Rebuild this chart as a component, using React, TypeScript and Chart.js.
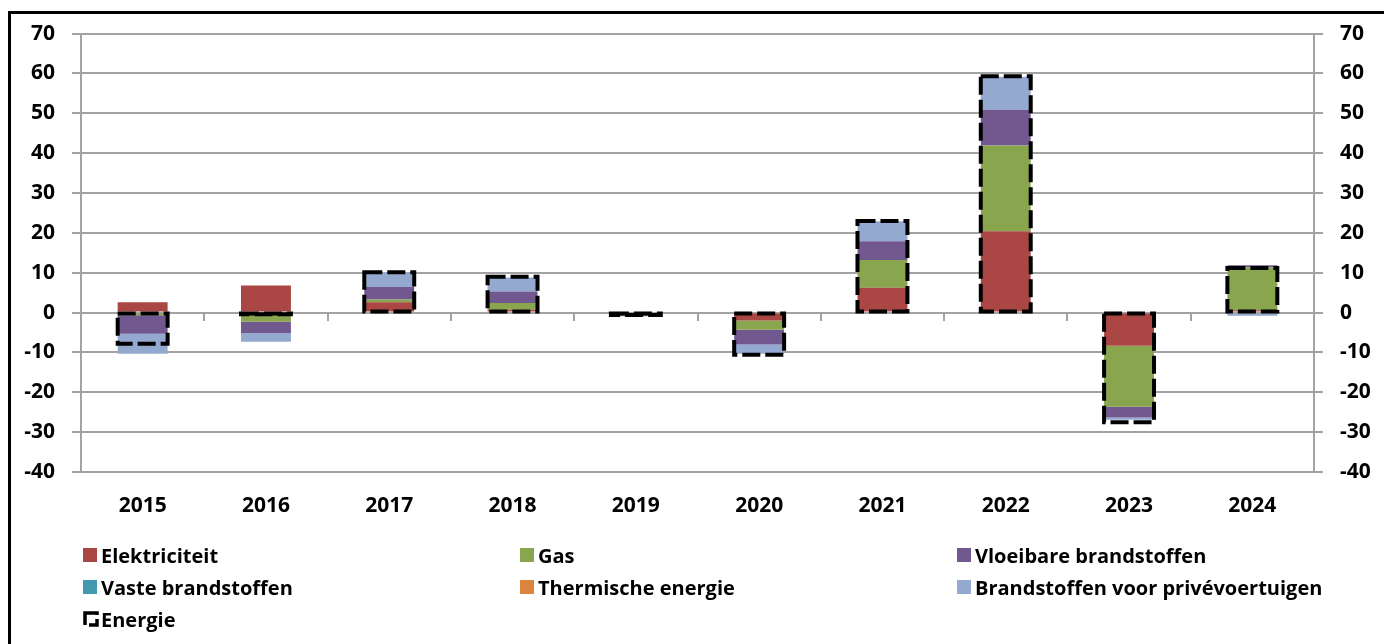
import React, { useEffect, useRef } from "react";
import { Chart, registerables } from "chart.js";

Chart.register(...registerables);

const years = ["2015", "2016", "2017", "2018", "2019", "2020", "2021", "2022", "2023", "2024"];
const elektriciteit = [2.6, 6.8, 2.6, 0.7, 0.3, -2.0, 6.2, 20.4, -8.3, 0.6];
const gas = [-0.7, -2.3, 0.7, 1.7, -0.6, -2.3, 7.0, 21.5, -15.3, 10.7];
const vloeibare = [-4.6, -2.9, 3.1, 2.9, -0.2, -3.7, 4.7, 9.0, -2.7, 0.6];
const vaste = [0, 0, 0, 0, 0, 0, 0, 0, 0, 0];
const thermische = [0, 0, 0, 0, 0, 0, 0, 0, 0, 0];
const prive = [-5.0, -2.1, 3.8, 3.5, -0.1, -2.3, 5.0, 8.3, -0.6, -0.8];
const energie = [-7.8, -0.4, 10.1, 9.0, -0.6, -10.6, 23.0, 59.3, -27.5, 11.2];
const yTicks = { min: -40, max: 70, step: 10 };

const series = [
  { label: "Elektriciteit", data: elektriciteit, color: "#AA4643" },
  { label: "Gas", data: gas, color: "#89A54E" },
  { label: "Vloeibare brandstoffen", data: vloeibare, color: "#71588F" },
  { label: "Vaste brandstoffen", data: vaste, color: "#4198AF" },
  { label: "Thermische energie", data: thermische, color: "#DB843D" },
  { label: "Brandstoffen voor privévoertuigen", data: prive, color: "#93A9CF" },
];
const totalLabel = "Energie";

const GRID = "#a3a3a3";
const FONT = '"Open Sans", "DejaVu Sans", sans-serif';

const dashedBoxPlugin = {
  id: "dashedBox",
  afterDatasetsDraw(chart: any) {
    const idx = chart.data.datasets.findIndex((d: any) => d.label === totalLabel);
    if (idx < 0) return;
    const meta = chart.getDatasetMeta(idx);
    const ctx = chart.ctx;
    ctx.save();
    ctx.strokeStyle = "#000";
    ctx.lineWidth = 4;
    ctx.lineCap = "butt";
    ctx.setLineDash([18, 5]);
    meta.data.forEach((el: any) => {
      const p = el.getProps(["x", "y", "base", "width"], true);
      const l = p.x - p.width / 2;
      const t = Math.min(p.y, p.base);
      const h = Math.abs(p.base - p.y);
      ctx.strokeRect(l, t, p.width, h);
    });
    ctx.restore();
  },
};

function App() {
  const ref = useRef<HTMLCanvasElement | null>(null);

  useEffect(() => {
    if (!ref.current) return;
    const tickFont = { family: FONT, size: 21, weight: "bold" as const };
    const chart = new Chart(ref.current, {
      type: "bar",
      data: {
        labels: years,
        datasets: [
          ...series.map((s) => ({
            label: s.label,
            data: s.data,
            backgroundColor: s.color,
            borderWidth: 0,
            stack: "parts",
          })),
          {
            label: totalLabel,
            data: energie,
            backgroundColor: "rgba(0,0,0,0)",
            borderWidth: 0,
            stack: "total",
          },
        ],
      },
      options: {
        animation: false,
        responsive: false,
        maintainAspectRatio: false,
        datasets: {
          bar: { grouped: false, barPercentage: 0.405, categoryPercentage: 1 },
        },
        layout: { padding: { top: 8, left: 0, right: 0, bottom: 0 } },
        plugins: { legend: { display: false }, tooltip: { enabled: false } },
        scales: {
          x: {
            stacked: true,
            grid: { display: false, drawTicks: false },
            border: { display: false },
            ticks: { color: "#000", font: tickFont, padding: 21 },
            afterFit: (s: any) => {
              s.height = 62;
            },
          },
          x2: {
            type: "category",
            axis: "x",
            position: { y: 0 },
            offset: true,
            grid: {
              offset: true,
              drawOnChartArea: false,
              drawTicks: true,
              tickLength: 8,
              color: GRID,
              lineWidth: 2,
            },
            border: { display: false },
            ticks: { display: false },
          },
          y: {
            stacked: true,
            min: yTicks.min,
            max: yTicks.max,
            ticks: { stepSize: yTicks.step, color: "#000", font: tickFont, padding: 17 },
            grid: { color: GRID, lineWidth: 2, tickLength: 9 },
            border: { color: GRID, width: 2 },
            afterFit: (s: any) => {
              s.width = 70;
            },
          },
          y2: {
            position: "right",
            min: yTicks.min,
            max: yTicks.max,
            ticks: { stepSize: yTicks.step, color: "#000", font: tickFont, padding: 17 },
            grid: { color: GRID, lineWidth: 2, tickLength: 9, drawOnChartArea: false },
            border: { color: GRID, width: 2 },
            afterFit: (s: any) => {
              s.width = 70;
            },
          },
        },
      } as any,
      plugins: [dashedBoxPlugin],
    });
    return () => chart.destroy();
  }, []);

  const legendItems = [...series.map((s) => ({ label: s.label, color: s.color })), { label: totalLabel, color: "" }];
  const colX = [83, 520, 957];
  const rowY = [555, 587, 619];

  return (
    <div>
      <div
        style={{
          position: "fixed",
          left: 8,
          top: 11,
          right: -20,
          bottom: -20,
          borderTop: "3px solid #000",
          borderLeft: "3px solid #000",
        }}
      />
      <canvas
        ref={ref}
        width={1373}
        height={530}
        style={{ position: "fixed", left: 11, top: 4, width: 1373, height: 530 }}
      />
      {legendItems.map((it, i) => {
        const col = i % 3;
        const row = Math.floor(i / 3);
        return (
          <div
            key={it.label}
            style={{
              position: "fixed",
              left: colX[col],
              top: rowY[row] - 14,
              height: 28,
              display: "flex",
              alignItems: "center",
              fontFamily: FONT,
              fontWeight: 700,
              fontSize: 20,
              color: "#000",
              whiteSpace: "nowrap",
            }}
          >
            {it.color ? (
              <span style={{ display: "inline-block", width: 14, height: 14, background: it.color, marginRight: 4 }} />
            ) : (
              <svg width="16" height="16" style={{ marginRight: 2 }}>
                <rect x="2" y="2" width="12" height="12" fill="none" stroke="#000" strokeWidth="3.5" strokeDasharray="14 4" />
              </svg>
            )}
            <span>{it.label}</span>
          </div>
        );
      })}
    </div>
  );
}

export default App;
